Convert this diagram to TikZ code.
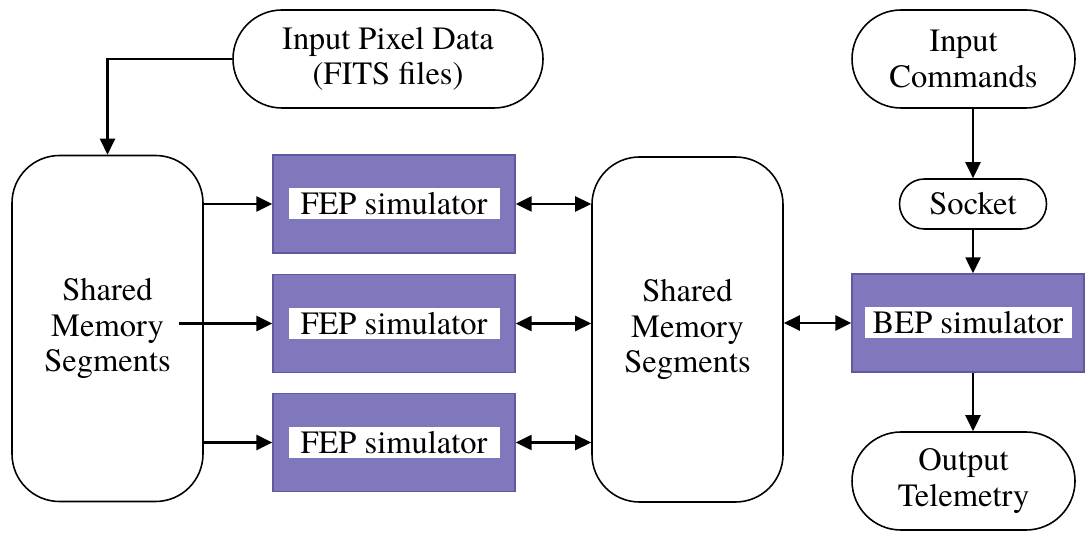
\documentclass[tikz,border=0pt]{standalone}
\usepackage{fontspec}
\setmainfont{texgyretermes}[Extension=.otf, UprightFont=*-regular, BoldFont=*-bold, ItalicFont=*-italic, BoldItalicFont=*-bolditalic]
\usepackage{xcolor}
\usetikzlibrary{arrows.meta, positioning}
\definecolor{simpurple}{RGB}{128, 120, 188}
\definecolor{simedge}{RGB}{96, 88, 160}

\begin{document}
\begin{tikzpicture}[
  font=\rmfamily\fontsize{18.5}{20}\selectfont,
  >={Triangle[length=0.32cm,width=0.3cm]},
  link/.style={line width=1.4pt},
  terminal/.style={
    draw=black,
    line width=0.9pt,
    fill=white,
    rounded corners=0.98cm,
    minimum width=4.46cm,
    minimum height=1.96cm,
    align=center,
  },
  memblock/.style={
    draw=black,
    line width=0.9pt,
    fill=white,
    rounded corners=0.95cm,
    minimum width=3.82cm,
    minimum height=6.92cm,
    align=center,
  },
  simblock/.style={
    draw=simedge,
    line width=0.8pt,
    fill=simpurple,
    minimum width=4.84cm,
    minimum height=1.96cm,
  },
  simlabel/.style={
    fill=white,
    minimum width=4.22cm,
    minimum height=0.62cm,
    inner sep=0pt,
  }
]
  \useasboundingbox (0, 0) rectangle (21.72, -10.78);

  % === Inputs ===
  \node[terminal, minimum width=6.2cm] (pix) at (7.76, -1.18) {Input Pixel Data\\ (FITS files)};
  \node[terminal] (cmd) at (19.27, -1.18) {Input\\ Commands};
  \node[terminal, rounded corners=0.5cm, minimum width=2.94cm, minimum height=1.0cm] (sock) at (19.46, -4.08) {Socket};

  % === Shared memory ===
  \node[memblock] (lsm) at (2.15, -6.57) {Shared\\ Memory\\ Segments};
  \node[memblock, minimum height=6.9cm] (msm) at (13.75, -6.59) {Shared\\ Memory\\ Segments};

  % === Simulators ===
  \node[simblock] (fep1) at (7.88, -4.08) {};
  \node[simlabel] (fep1t) at (fep1) {FEP simulator};
  \node[simblock] (fep2) at (7.88, -6.47) {};
  \node[simlabel] (fep2t) at (fep2) {FEP simulator};
  \node[simblock] (fep3) at (7.88, -8.85) {};
  \node[simlabel] (fep3t) at (fep3) {FEP simulator};
  \node[simblock, minimum width=4.64cm] (bep) at (19.36, -6.46) {};
  \node[simlabel, minimum width=4.14cm] (bept) at (bep) {BEP simulator};

  % === Output ===
  \node[terminal] (out) at (19.27, -9.62) {Output\\ Telemetry};

  % Connectors
  \draw[link, ->] (pix.west) -| (lsm.north);
  \draw[link, ->] (lsm.east |- fep1) -- (fep1.west);
  \draw[link, ->] ([xshift=-0.5cm]lsm.east |- fep2) -- (fep2.west);
  \draw[link, ->] (lsm.east |- fep3) -- (fep3.west);
  \foreach \i in {1,2,3}
    \draw[link, <->] (fep\i.east) -- (msm.west |- fep\i);
  \draw[link, <->] (msm.east |- bep) -- (bep.west);
  \draw[link, ->] (sock |- cmd.south) -- (sock.north);
  \draw[link, ->] (sock.south) -- (sock |- bep.north);
  \draw[link, ->] (sock |- bep.south) -- (sock |- out.north);

\end{tikzpicture}
\end{document}
